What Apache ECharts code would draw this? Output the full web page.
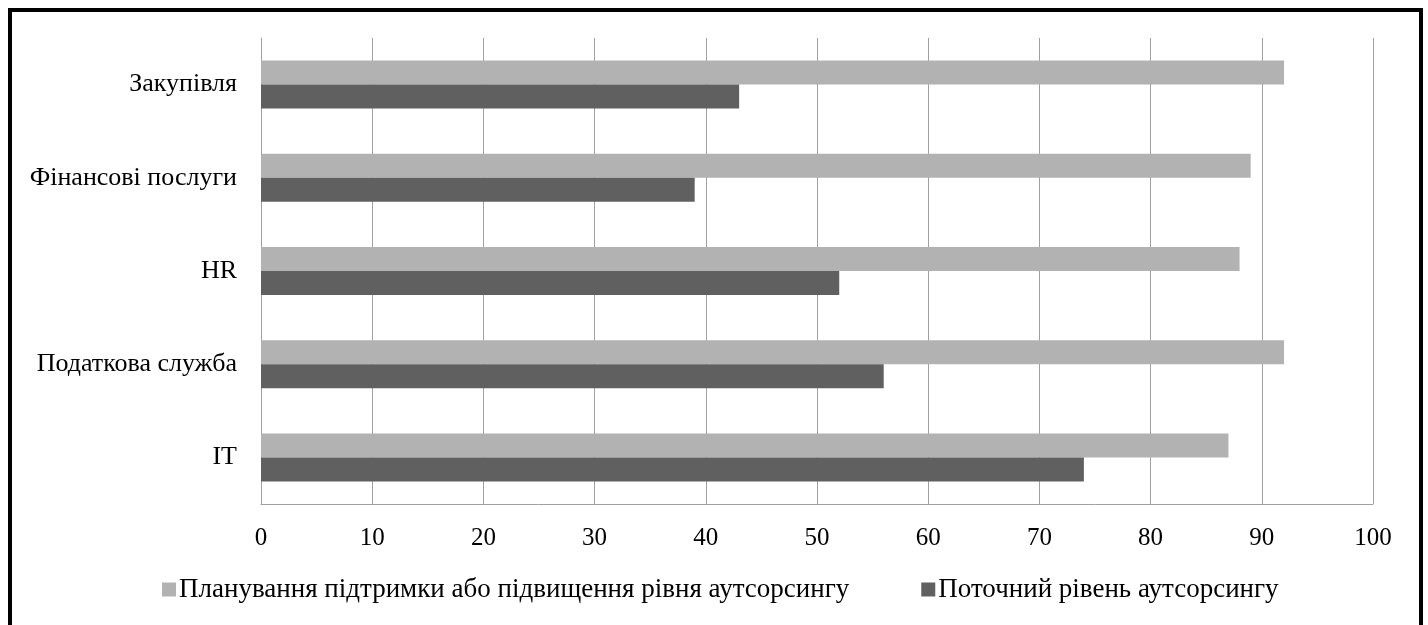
<!DOCTYPE html>
<html>
<head>
<meta charset="utf-8">
<script src="https://cdn.jsdelivr.net/npm/echarts@6/dist/echarts.min.js"></script>
<style>
  html, body { margin: 0; padding: 0; background: #fff; }
  #chart { position: absolute; left: 0; top: 0; width: 1428px; height: 625px; }
  #frame { position: absolute; left: 8px; top: 8px; width: 1407px; height: 640px;
           border: 4px solid #000; pointer-events: none; }
</style>
</head>
<body>
<div id="chart"></div>
<div id="frame"></div>
<script>
// Outsourcing by function, percent of respondents
const categories = ['IT', 'Податкова служба', 'HR', 'Фінансові послуги', 'Закупівля'];
const seriesNames = ['Планування підтримки або підвищення рівня аутсорсингу', 'Поточний рівень аутсорсингу'];
const plannedValues = [87, 92, 88, 89, 92];
const currentValues = [74, 56, 52, 39, 43];
const xTicks = { min: 0, max: 100, interval: 10 };

const FONT = '"Liberation Serif", "Times New Roman", serif';
const chart = echarts.init(document.getElementById('chart'), null, { renderer: 'canvas' });

chart.setOption({
  animation: false,
  backgroundColor: '#ffffff',
  textStyle: { fontFamily: FONT },
  grid: { left: 261, right: 55, top: 38, bottom: 121, containLabel: false },
  legend: {
    data: seriesNames,
    left: 157,
    top: 571,
    icon: 'rect',
    itemWidth: 14,
    itemHeight: 14,
    itemGap: 72,
    textStyle: { fontFamily: FONT, fontSize: 27, color: '#000', padding: [3, 0, 0, -2] }
  },
  xAxis: {
    type: 'value',
    min: xTicks.min,
    max: xTicks.max,
    interval: xTicks.interval,
    axisLine: { show: true, lineStyle: { color: '#a0a0a0', width: 1 } },
    axisTick: { show: false },
    splitLine: { show: true, lineStyle: { color: '#a0a0a0', width: 1 } },
    axisLabel: { color: '#000', fontFamily: FONT, fontSize: 25, margin: 22 }
  },
  yAxis: {
    type: 'category',
    data: categories,
    axisLine: { show: true, lineStyle: { color: '#a0a0a0', width: 1 } },
    axisTick: { show: false },
    splitLine: { show: false },
    axisLabel: { color: '#000', fontFamily: FONT, fontSize: 26, margin: 24 }
  },
  series: [
    {
      name: seriesNames[0],
      type: 'bar',
      data: plannedValues,
      barWidth: 24,
      barGap: '0%',
      itemStyle: { color: '#b2b2b2' }
    },
    {
      name: seriesNames[1],
      type: 'bar',
      data: currentValues,
      barWidth: 24,
      barGap: '0%',
      itemStyle: { color: '#606060' }
    }
  ]
});
</script>
</body>
</html>
